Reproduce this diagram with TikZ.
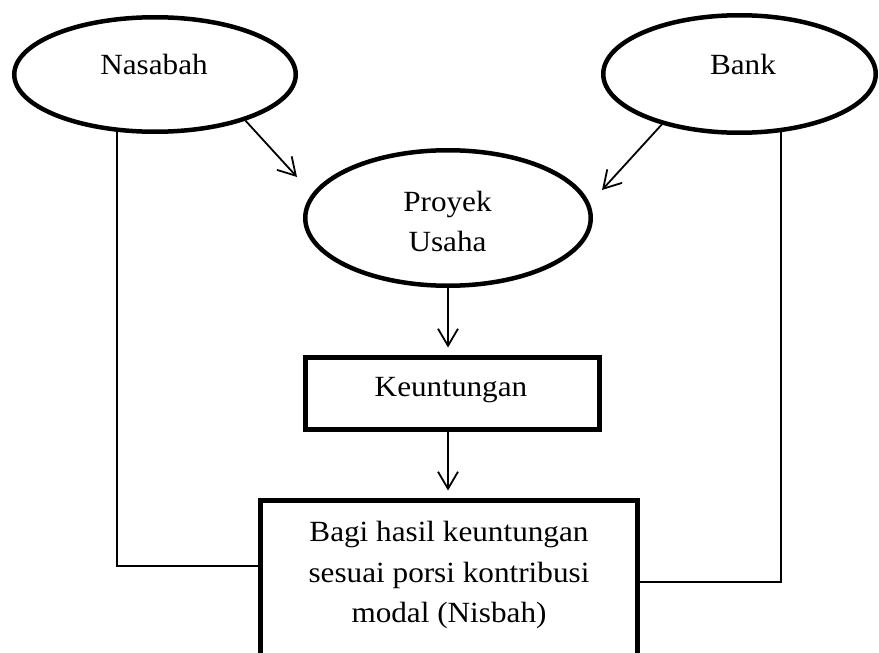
\documentclass[tikz,border=0pt]{standalone}
\usepackage{fontspec}
\setmainfont{Liberation Serif}[FakeStretch=1.065]
\usetikzlibrary{shapes.geometric,arrows.meta,backgrounds}
\begin{document}
\begin{tikzpicture}[x=1pt,y=-1pt,
  oval/.style={ellipse, draw, line width=4.5pt, fill=white, inner sep=0pt},
  boxnode/.style={rectangle, draw, line width=5pt, fill=white},
  conn/.style={line width=1.8pt},
  arr/.style={conn, -{Straight Barb[length=17pt,width=20pt,line width=1.8pt]}},
  lbl/.style={font=\fontsize{29.3}{40.8}\selectfont, align=center, inner sep=0pt}]
\useasboundingbox (0,0) rectangle (879,653);
\clip (0,0) rectangle (879,653);
% shapes
\node[oval, minimum width=281.5, minimum height=114.5] (nas) at (155,74.5) {};
\node[oval, minimum width=272.5, minimum height=117.5] (bank) at (739.5,74) {};
\node[oval, minimum width=285.5, minimum height=135.5] (proy) at (448,218) {};
\node[boxnode, minimum width=294, minimum height=72] (keu) at (452,393) {};
\node[boxnode, minimum width=377, minimum height=200] (bot) at (448.5,600) {};
% texts
\node[lbl] (tnas) at (154,64.3) {Nasabah};
\node[lbl] (tbank) at (743,64) {Bank};
\node[lbl, font=\fontsize{29.3}{40}\selectfont] (tproy) at (447.5,221.7) {Proyek\\Usaha};
\node[lbl] (tkeu) at (451,390.2) {Keuntungan};
\node[lbl] (tbot) at (449,575.1) {Bagi hasil keuntungan\\sesuai porsi kontribusi\\modal (Nisbah)};
% connectors
\coordinate (t1) at (297,177);
\coordinate (t2) at (602,190);
\coordinate (jl) at (117,566);
\coordinate (jr) at (781,582);
\begin{scope}[on background layer]
  \fill[white] (0,0) rectangle (879,653);
  \draw[conn] (jl |- nas.center) -- (jl) -- (jl -| bot.west);
  \draw[conn] (jr |- bank.center) -- (jr) -- (jr -| bot.east);
\end{scope}
\draw[arr] (nas.-27.5) -- (t1);
\draw[arr] (bank.213.7) -- (t2);
\draw[arr, shorten >=7pt] (proy.south) -- (proy.south |- keu.north);
\draw[arr, shorten >=7pt] (keu.south -| proy.south) -- (proy.south |- bot.north);
\end{tikzpicture}
\end{document}
